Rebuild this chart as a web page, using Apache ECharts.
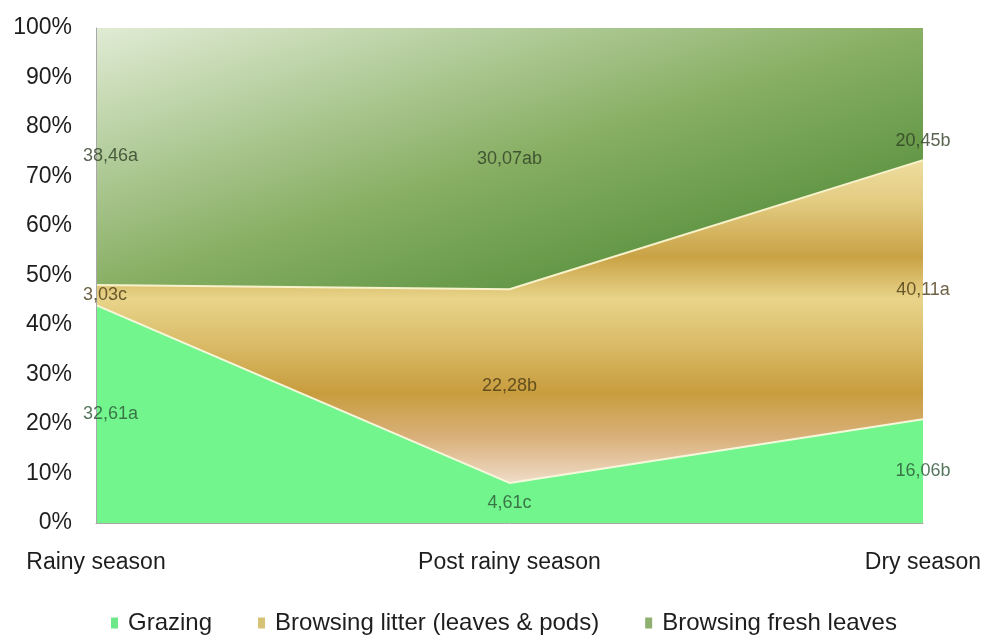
<!DOCTYPE html>
<html>
<head>
<meta charset="utf-8">
<script src="https://cdn.jsdelivr.net/npm/echarts@6/dist/echarts.min.js"></script>
<style>
html,body{margin:0;padding:0;background:#fff;}
#chart{width:986px;height:635px;}
</style>
</head>
<body>
<div id="chart"></div>
<script>
// ---- data ----
const categories = ['Rainy season', 'Post rainy season', 'Dry season'];
const seriesNames = ['Grazing', 'Browsing litter (leaves & pods)', 'Browsing fresh leaves'];
const grazing = [32.61, 4.61, 16.06];
const litter = [3.03, 22.28, 40.11];
const fresh = [38.46, 30.07, 20.45];
const grazingSig = ['a', 'c', 'b'];
const litterSig = ['c', 'b', 'a'];
const freshSig = ['a', 'ab', 'b'];

// ---- derived (100% stacked) ----
const totals = categories.map((c, i) => grazing[i] + litter[i] + fresh[i]);
const pct = arr => arr.map((v, i) => v / totals[i] * 100);
const gP = pct(grazing), lP = pct(litter), fP = pct(fresh);
const fmt = (v, s) => v.toFixed(2).replace('.', ',') + s;

const FONT = '"Liberation Sans", Arial, sans-serif';

function labelSeries(name, mids, raws, sigs, color, extraOffsets) {
  return {
    type: 'scatter',
    name: name,
    z: 10,
    silent: true,
    symbol: 'circle',
    symbolSize: 1,
    itemStyle: { color: 'rgba(0,0,0,0)' },
    data: mids.map((m, i) => {
      const lab = { show: true, position: 'inside', formatter: fmt(raws[i], sigs[i]) };
      const off = extraOffsets ? extraOffsets[i] : [0, 0];
      if (i === 0) { lab.align = 'left'; lab.offset = [-13 + off[0], off[1]]; }
      else { lab.offset = off; }
      return { value: [i, m], label: lab };
    }),
    label: { show: true, fontFamily: FONT, fontSize: 18, color: color }
  };
}

const chart = echarts.init(document.getElementById('chart'), null, { renderer: 'canvas' });

const option = {
  backgroundColor: '#ffffff',
  animation: false,
  grid: { left: 96, right: 63, top: 28, bottom: 112, containLabel: false },
  legend: {
    left: 106,
    top: 606,
    icon: 'rect',
    itemWidth: 7,
    itemHeight: 11,
    itemGap: 46,
    textStyle: { fontFamily: FONT, fontSize: 24, color: '#1e1e1e', padding: [0, 0, 0, 5] },
    data: [
      { name: seriesNames[0], itemStyle: { color: '#6fe88a' } },
      { name: seriesNames[1], itemStyle: { color: '#d6c274' } },
      { name: seriesNames[2], itemStyle: { color: '#8fb070' } }
    ]
  },
  xAxis: {
    type: 'category',
    data: categories,
    boundaryGap: false,
    z: 6,
    axisLine: { show: true, lineStyle: { color: '#a8a8a8', width: 1 } },
    axisTick: { show: false },
    axisLabel: { fontFamily: FONT, fontSize: 23, color: '#1e1e1e', margin: 28, interval: 0 },
    splitLine: { show: false }
  },
  yAxis: {
    type: 'value',
    min: 0,
    max: 100,
    interval: 10,
    z: 6,
    axisLine: { show: true, lineStyle: { color: '#a8a8a8', width: 1 } },
    axisTick: { show: false },
    axisLabel: { fontFamily: FONT, fontSize: 23, color: '#1e1e1e', margin: 24, formatter: '{value}%' },
    splitLine: { show: false }
  },
  series: [
    {
      name: seriesNames[0],
      type: 'line',
      stack: 'total',
      z: 4,
      symbol: 'none',
      data: gP,
      itemStyle: { color: '#6fe88a' },
      lineStyle: { color: '#f6f8dc', width: 2 },
      areaStyle: { color: '#72f58d', opacity: 1 }
    },
    {
      name: seriesNames[1],
      type: 'line',
      stack: 'total',
      z: 3,
      symbol: 'none',
      data: lP,
      itemStyle: { color: '#d6c274' },
      lineStyle: { color: '#f8f2cc', width: 2 },
      areaStyle: {
        opacity: 1,
        color: new echarts.graphic.LinearGradient(0, 0, 0, 1, [
          { offset: 0, color: '#eedd9f' },
          { offset: 0.12, color: '#e4cd84' },
          { offset: 0.3, color: '#c9a245' },
          { offset: 0.43, color: '#e8d48a' },
          { offset: 0.56, color: '#dbbd6a' },
          { offset: 0.72, color: '#c89d3e' },
          { offset: 0.86, color: '#d9b07a' },
          { offset: 1, color: '#f0dcc8' }
        ])
      }
    },
    {
      name: seriesNames[2],
      type: 'line',
      stack: 'total',
      z: 2,
      symbol: 'none',
      data: fP,
      itemStyle: { color: '#8fb070' },
      lineStyle: { width: 0 },
      areaStyle: {
        opacity: 1,
        color: new echarts.graphic.LinearGradient(0, 0, 0.18, 1.82, [
          { offset: 0, color: '#e0ebd4' },
          { offset: 0.5, color: '#88af64' },
          { offset: 1, color: '#3f8029' }
        ])
      }
    },
    labelSeries('lab-grazing', gP.map(v => v / 2), grazing, grazingSig, '#2a5535'),
    labelSeries('lab-litter', gP.map((v, i) => v + lP[i] / 2), litter, litterSig, '#4a3a14'),
    labelSeries('lab-fresh', gP.map((v, i) => v + lP[i] + fP[i] / 2), fresh, freshSig, '#2e3f24',
      [[0, 0], [0, 0], [0, 47]])
  ]
};
chart.setOption(option);
</script>
</body>
</html>
